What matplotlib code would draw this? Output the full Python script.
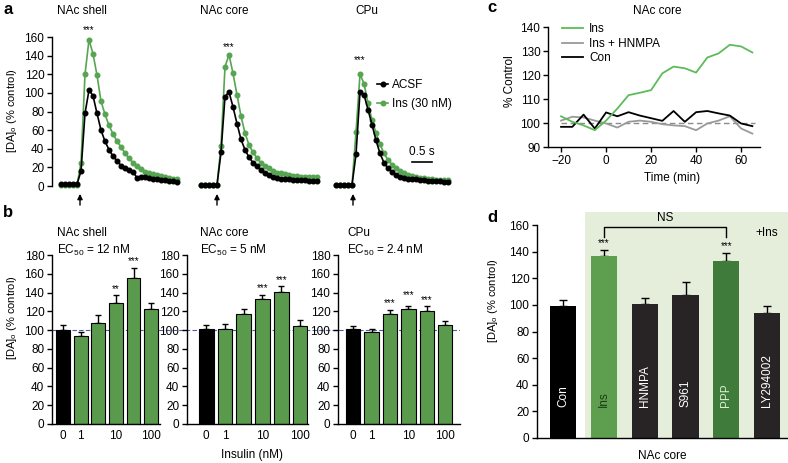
import numpy as np
import matplotlib
matplotlib.use("Agg")
import matplotlib.pyplot as plt

plt.rcParams['font.family'] = ['Liberation Sans', 'DejaVu Sans']
plt.rcParams['mathtext.fontset'] = 'custom'
plt.rcParams['mathtext.rm'] = 'Liberation Sans'
plt.rcParams['mathtext.it'] = 'Liberation Sans:italic'
plt.rcParams['font.size'] = 8.5
plt.rcParams['axes.linewidth'] = 1.0
plt.rcParams['xtick.major.width'] = 1.0
plt.rcParams['ytick.major.width'] = 1.0
plt.rcParams['xtick.major.size'] = 3.5
plt.rcParams['ytick.major.size'] = 3.5
plt.rcParams['xtick.major.pad'] = 2
plt.rcParams['ytick.major.pad'] = 2

W, H = 788, 463

# ---- panel a: evoked [DA]o, one sample every 0.1 s ----
dt = 0.1
a_regions = ["NAc shell", "NAc core", "CPu"]
a_t0 = [0.225, 3.725, 7.1]        # where each trace starts (s)
a_stim = [0.7, 4.125, 7.525]      # stimulus arrows (s)
shell_acsf = [2, 2, 2, 2, 2, 16, 78, 103, 97, 78, 60, 48, 39, 32, 27, 22, 19, 17, 15, 9,
              10, 10, 9, 8, 7.5, 6.5, 6.5, 5.5, 5.5, 4]
shell_ins = [1, 1, 1, 1, 1, 25, 120, 157, 142, 119, 91, 77, 65, 56, 48, 42, 35, 30, 25, 21,
             18, 15, 14, 13, 12, 11, 10, 9, 8, 8]
core_acsf = [1, 1, 1, 1, 1, 36, 96, 101, 85, 67, 50, 39, 31, 25, 21, 17, 14, 12, 10, 9,
             8, 7, 7, 6.5, 6.5, 6.5, 6.5, 5.5, 5.5, 5.5]
core_ins = [1, 1, 1, 1, 1, 43, 128, 141, 121, 98, 75, 57, 44, 36, 30, 25, 21.5, 19, 16.5, 14.5,
            13.5, 12.5, 12, 11, 11, 10, 10, 10, 10, 10]
cpu_acsf = [1, 1, 1, 1, 1, 34, 101, 98, 82, 66, 49, 35, 25, 19, 15, 12, 10, 9, 8, 7.5,
            7, 6.5, 6, 5.5, 5.5, 5, 5, 4.6, 4.6]
cpu_ins = [1, 1, 1, 1, 1, 58, 120, 110, 89, 71, 57, 45, 35, 28, 23, 19, 16, 13.6, 11.8, 10.7,
           9.7, 9, 8.2, 7.5, 7.2, 6.8, 6.4, 6, 6]
a_star_off = [10, 8, 15]

# ---- panel b: concentration response ----
b_regions = ["NAc shell", "NAc core", "CPu"]
b_ec50 = ["12 nM", "5 nM", "2.4 nM"]
ins_ticklabels = ["0", "1", "10", "100"]
ins_tickpos = [0, 1, 3, 5]
shell_mean = [100, 94, 108, 129, 156, 122.5]
shell_sem = [5, 4, 8, 8, 10, 6]
core_mean = [101, 101, 117, 133, 141, 104.5]
core_sem = [4.5, 5, 6, 4.5, 5.5, 6.5]
cpu_mean = [101, 97.5, 117, 122.5, 120.5, 105.5]
cpu_sem = [3.5, 3.5, 4.5, 3.5, 5, 4.5]
shell_stars = ["", "", "", "**", "***", ""]
core_stars = ["", "", "", "***", "***", ""]
cpu_stars = ["", "", "***", "***", "***", ""]

# ---- panel c: time course, NAc core ----
c_time = [-20, -15, -10, -5, 0, 5, 10, 15, 20, 25, 30, 35, 40, 45, 50, 55, 60, 65]
c_ins = [102.8, 100.5, 99, 97, 101, 106, 111.6, 112.6, 113.7, 120.7, 123.5, 122.8, 121,
         127.3, 129, 132.6, 131.9, 129.4]
c_hnmpa = [101, 102.6, 102.3, 101, 99.8, 98.1, 100.5, 101, 100.5, 99.5, 99, 98.7, 97,
           99.8, 101, 102.8, 97.7, 95.6]
c_con = [98.4, 98.4, 103.5, 97.7, 104.4, 102.8, 104.5, 103.1, 102, 100.9, 105, 100.5,
         104.5, 105, 104, 103.1, 99.8, 98.7]

# ---- panel d: antagonists, NAc core ----
d_labels = ["Con", "Ins", "HNMPA", "S961", "PPP", "LY294002"]
d_mean = [99, 137, 100.5, 107.5, 133, 94]
d_sem = [4.3, 4.5, 4.5, 10, 6.3, 5]

GREEN_A = "#55a552"
GREEN_B = "#5a9a4c"
GREEN_C = "#5dbb59"
GREEN_D = "#5e9e4f"
GREEN_PPP = "#3f7c3b"
DARK = "#282425"


def add_ax(l, t, r, b):
    return fig.add_axes([l / W, 1 - b / H, (r - l) / W, (b - t) / H])


def ftext(x, y, s, **kw):
    fig.text(x / W, 1 - y / H, s, **kw)


fig = plt.figure(figsize=(W / 100, H / 100), dpi=100)

# ================= a =================
ax = add_ax(52, 27.7, 490, 206.5)
ax.set_xlim(0, 438 / 40)
ax.set_ylim(-22, 170)
for s in ["top", "right", "bottom"]:
    ax.spines[s].set_visible(False)
ax.spines["left"].set_bounds(0, 160)
ax.set_xticks([])
ax.set_yticks(np.arange(0, 161, 20))
traces = [(shell_acsf, shell_ins), (core_acsf, core_ins), (cpu_acsf, cpu_ins)]
for i, (acsf, ins) in enumerate(traces):
    t = a_t0[i] + dt * np.arange(len(acsf))
    hi, = ax.plot(t, ins, "-o", color=GREEN_A, ms=3.3, lw=1.2, mec=GREEN_A)
    ha, = ax.plot(t, acsf, "-o", color="black", ms=3.3, lw=1.2)
    k = int(np.argmax(ins))
    ax.text(t[k], ins[k] + a_star_off[i], "***", ha="center", va="center", fontsize=7)
    ax.annotate("", xy=(a_stim[i], -8.5), xytext=(a_stim[i], -20.5),
                arrowprops=dict(arrowstyle="-|>,head_length=0.5,head_width=0.25",
                                color="black", lw=1, mutation_scale=6,
                                shrinkA=0, shrinkB=0),
                annotation_clip=False)
ax.legend([ha, hi], ["ACSF", "Ins (30 nM)"], loc="upper left",
          bbox_to_anchor=(0.742, 0.713), frameon=False, fontsize=8.5,
          handlelength=0.95, handletextpad=0.3, labelspacing=0.6,
          borderpad=0, borderaxespad=0)
ax.plot([9.0, 9.5], [26, 26], color="black", lw=1.2)
ax.text(9.25, 30, "0.5 s", ha="center", va="bottom", fontsize=8.5)
for name, x in zip(a_regions, [82, 224, 367]):
    ftext(x, 11, name, ha="center", va="center", fontsize=8.5)
ftext(12, 111, "[DA]$_\\mathrm{o}$ (% control)", rotation=90, ha="center", va="center",
      fontsize=8)

# ================= b =================
line_ax = add_ax(52, 255, 460, 424)
line_ax.set_ylim(0, 180)
line_ax.axhline(100, color="#4a5fa8", lw=0.8, dashes=(4, 2))
line_ax.axis("off")

b_boxes = [(52, 160, -0.63, 5.5), (187, 308, -1.03, 5.43), (338, 460, -0.82, 5.8)]
b_data = [(shell_mean, shell_sem, shell_stars), (core_mean, core_sem, core_stars),
          (cpu_mean, cpu_sem, cpu_stars)]
b_text_x = [57, 200, 347]
for i, ((l, r, x0, x1), (mean, sem, stars)) in enumerate(zip(b_boxes, b_data)):
    ax = add_ax(l, 255, r, 424)
    ax.set_facecolor("none")
    x = np.arange(len(mean))
    ax.bar(x, mean, width=0.78, color=["black"] + [GREEN_B] * 5, edgecolor="black",
           lw=0.8, zorder=2)
    ax.errorbar(x, mean, yerr=[np.zeros(len(sem)), sem], fmt="none", ecolor="black",
                elinewidth=1, capsize=2.5, capthick=1, zorder=1)
    for j, s in enumerate(stars):
        if s:
            off = 11 if (i == 2 and j == 3) else 7
            ax.text(x[j], mean[j] + sem[j] + off, s, ha="center", va="center", fontsize=7)
    ax.set_xlim(x0, x1)
    ax.set_ylim(0, 180)
    ax.set_yticks(np.arange(0, 181, 20))
    ax.set_xticks(ins_tickpos)
    ax.set_xticklabels(ins_ticklabels)
    ax.tick_params(axis="x", length=0, pad=4)
    ax.tick_params(labelsize=8.5)
    for s in ["top", "right"]:
        ax.spines[s].set_visible(False)
    ftext(b_text_x[i], 233, b_regions[i], ha="left", va="center", fontsize=8.5)
    ftext(b_text_x[i], 250, "EC$_{50}$ = " + b_ec50[i], ha="left", va="center", fontsize=8.5)
ftext(252, 455, "Insulin (nM)", ha="center", va="center", fontsize=8.5)
ftext(12, 318, "[DA]$_\\mathrm{o}$ (% control)", rotation=90, ha="center", va="center",
      fontsize=8)

# ================= c =================
ax = add_ax(548, 27, 760, 147)
ax.hlines(100, c_time[0], c_time[-1] + 1, color="#8c8c8c", lw=1, linestyles=(0, (4, 2.5)))
l2, = ax.plot(c_time, c_hnmpa, color="#9a9a9a", lw=1.3)
l3, = ax.plot(c_time, c_con, color="black", lw=1.3)
l1, = ax.plot(c_time, c_ins, color=GREEN_C, lw=1.3)
ax.set_xlim(-25.8, 68.4)
ax.set_ylim(90, 140)
ax.set_xticks([-20, 0, 20, 40, 60])
ax.set_yticks(np.arange(90, 141, 10))
ax.tick_params(labelsize=8.5)
for s in ["top", "right"]:
    ax.spines[s].set_visible(False)
ax.legend([l1, l2, l3], ["Ins", "Ins + HNMPA", "Con"], loc="upper left",
          bbox_to_anchor=(0.065, 1.03), frameon=False, fontsize=8.5,
          handlelength=1.8, handletextpad=0.5, labelspacing=0.2,
          borderpad=0, borderaxespad=0)
ftext(657, 11, "NAc core", ha="center", va="center", fontsize=8.5)
ftext(672, 178, "Time (min)", ha="center", va="center", fontsize=8.5)
ftext(510, 81, "% Control", rotation=90, ha="center", va="center", fontsize=8.5)

# ================= d =================
ax = add_ax(537, 211.7, 788, 438)
ax.set_xlim(-0.64, 5.51)
ax.set_ylim(0, 170)
ax.axvspan(0.54, 5.51, color="#e5eddb", lw=0, zorder=0)
x = np.arange(len(d_mean))
d_colors = ["black", GREEN_D, DARK, DARK, GREEN_PPP, DARK]
d_txtcol = ["white", "#1d3a17", "white", "white", "#dcefd2", "white"]
ax.bar(x, d_mean, width=0.64, color=d_colors, zorder=2)
ax.errorbar(x, d_mean, yerr=[np.zeros(len(d_sem)), d_sem], fmt="none", ecolor="black",
            elinewidth=1, capsize=3, capthick=1, zorder=1)
for j, lab in enumerate(d_labels):
    ax.text(x[j], 23, lab, rotation=90, ha="center", va="bottom", color=d_txtcol[j],
            fontsize=8.5, zorder=3)
for j in [1, 4]:
    ax.text(x[j], d_mean[j] + d_sem[j] + 5, "***", ha="center", va="center", fontsize=7)
ax.plot([x[1], x[1], x[4], x[4]], [150.8, 158.6, 158.6, 150.8], color="black", lw=1)
ax.text((x[1] + x[4]) / 2, 165, "NS", ha="center", va="center", fontsize=8.5)
ax.text(5.0, 154, "+Ins", ha="center", va="center", fontsize=8.5)
ax.set_xticks([])
ax.set_yticks(np.arange(0, 161, 20))
ax.tick_params(labelsize=8.5)
for s in ["top", "right"]:
    ax.spines[s].set_visible(False)
ax.spines["left"].set_bounds(0, 160)
ftext(662, 456, "NAc core", ha="center", va="center", fontsize=8.5)
ftext(493, 301, "[DA]$_\\mathrm{o}$ (% control)", rotation=90, ha="center", va="center",
      fontsize=8)

# panel letters
for lab, (px, py) in zip("abcd", [(3, 10), (3, 213), (487, 8), (487, 218)]):
    ftext(px, py, lab, ha="left", va="center", fontsize=12, fontweight="bold")

fig.savefig("out.png", dpi=100)
